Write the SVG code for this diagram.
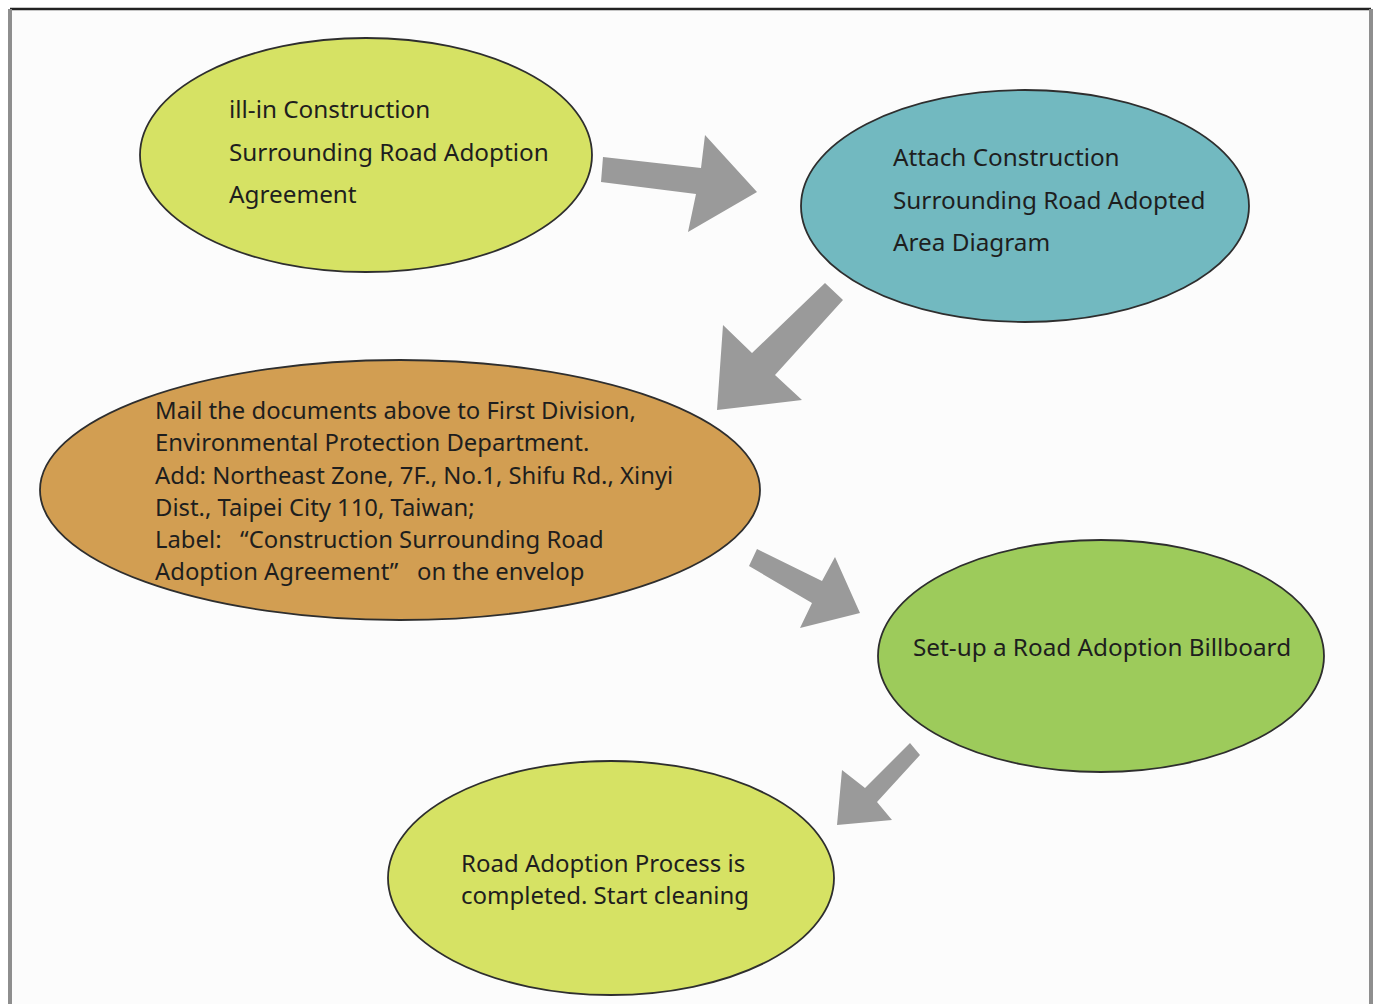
<svg xmlns="http://www.w3.org/2000/svg" width="1374" height="1004" viewBox="0 0 1374 1004">
<style>
.node ellipse{stroke:#2e2e2e;stroke-width:1.8}
.t{font-family:"Noto Sans","Open Sans","Liberation Sans",sans-serif;fill:#1e1e1e;font-size:24.3px}
.t3{font-size:23.85px}
.t5{font-size:24px}
.arrow{fill:#9a9a9a}
</style>
<rect x="0" y="0" width="1374" height="1004" fill="#ffffff"/>
<rect x="10" y="9" width="1361" height="1000" fill="#fcfcfc"/>
<line x1="10" y1="9" x2="1371" y2="9" stroke="#222" stroke-width="2.5"/>
<line x1="10" y1="9" x2="10" y2="1004" stroke="#8e8e8e" stroke-width="4"/>
<line x1="1371" y1="9" x2="1371" y2="1004" stroke="#8e8e8e" stroke-width="4"/>
<g id="connectors">
<polygon class="arrow" points="603,157 701,168 705,135 757,192 688,232 696,194 601,182"/>
<polygon class="arrow" points="825,283 843,300 775,375 802,400 717,410 723,325 752,353"/>
<polygon class="arrow" points="757,549 822,581 835,557 860,613 800,628 812,603 749,566"/>
<polygon class="arrow" points="910,743 920,755 877,802 892,820 837,825 842,770 865,788"/>
</g>
<g id="node1" class="node">
<ellipse cx="366" cy="155" rx="226" ry="117" fill="#d6e264"/>
<text class="t" x="229" y="118">ill-in Construction</text>
<text class="t" x="229" y="161">Surrounding Road Adoption</text>
<text class="t" x="229" y="203">Agreement</text>
</g>
<g id="node2" class="node">
<ellipse cx="1025" cy="206" rx="224" ry="116" fill="#72b9c0"/>
<text class="t" x="893" y="166">Attach Construction</text>
<text class="t" x="893" y="209">Surrounding Road Adopted</text>
<text class="t" x="893" y="251">Area Diagram</text>
</g>
<g id="node3" class="node">
<ellipse cx="400" cy="490" rx="360" ry="130" fill="#d29e52"/>
<text class="t t3" x="155" y="419">Mail the documents above to First Division,</text>
<text class="t t3" x="155" y="451">Environmental Protection Department.</text>
<text class="t t3" x="155" y="484">Add: Northeast Zone, 7F., No.1, Shifu Rd., Xinyi</text>
<text class="t t3" x="155" y="516">Dist., Taipei City 110, Taiwan;</text>
<text class="t t3" x="155" y="548" xml:space="preserve">Label:   “Construction Surrounding Road</text>
<text class="t t3" x="155" y="580" xml:space="preserve">Adoption Agreement”   on the envelop</text>
</g>
<g id="node4" class="node">
<ellipse cx="1101" cy="656" rx="223" ry="116" fill="#9dcb5b"/>
<text class="t" x="913" y="656">Set-up a Road Adoption Billboard</text>
</g>
<g id="node5" class="node">
<ellipse cx="611" cy="878" rx="223" ry="117" fill="#d6e264"/>
<text class="t t5" x="461" y="872">Road Adoption Process is</text>
<text class="t t5" x="461" y="904">completed. Start cleaning</text>
</g>
</svg>
